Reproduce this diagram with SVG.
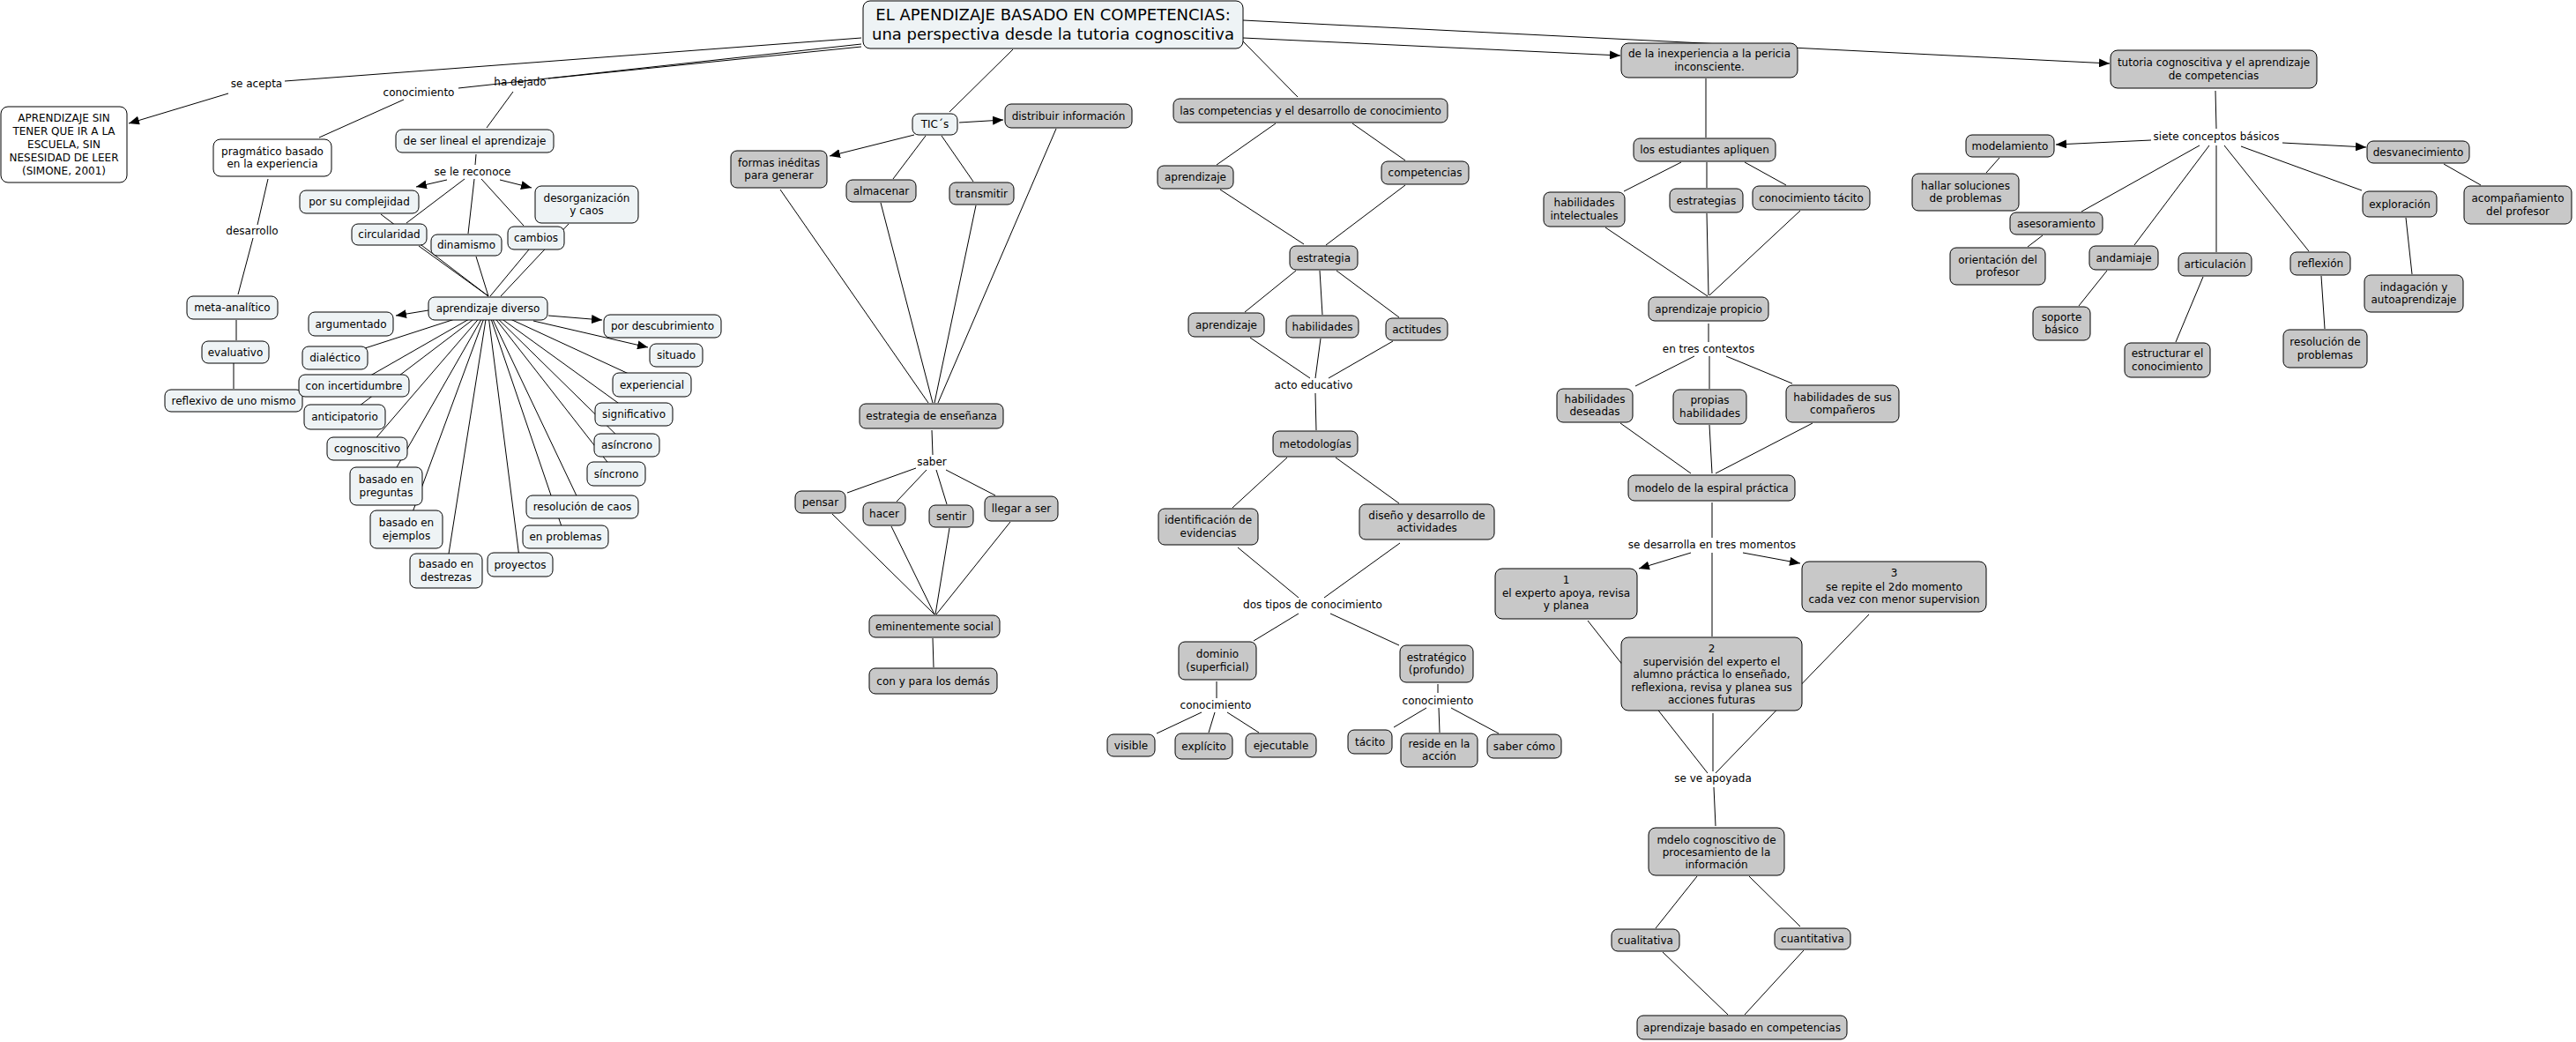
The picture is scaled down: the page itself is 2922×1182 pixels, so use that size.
<svg xmlns="http://www.w3.org/2000/svg" width="2922" height="1182" viewBox="0 0 2922 1182">
<defs>
<marker id="ah" markerUnits="userSpaceOnUse" markerWidth="12" markerHeight="10" refX="12" refY="5" orient="auto"><path d="M0,0 L12,5 L0,10 z" fill="#000"/></marker>
<style>
.g,.l,.w{stroke:#000;stroke-width:1}
.g{fill:#c8c8c8}.l{fill:#eef3f5}.w{fill:#fff}
text{font-family:"DejaVu Sans",Verdana,sans-serif;font-size:12px;text-anchor:middle;fill:#000}
.t{font-size:18px}
#connectors line{stroke:#000;stroke-width:1;fill:none}
.a{marker-end:url(#ah)}
</style>
</defs>
<rect x="0" y="0" width="2922" height="1182" fill="#fff"/>
<g id="connectors">
<line x1="977" y1="43" x2="323" y2="92"/>
<line class="a" x1="259" y1="106" x2="146" y2="140"/>
<line x1="977" y1="50" x2="520" y2="100"/>
<line x1="977" y1="53" x2="622" y2="89"/>
<line x1="458" y1="113" x2="362" y2="156"/>
<line x1="582" y1="104" x2="552" y2="145"/>
<line x1="304" y1="203" x2="292" y2="255"/>
<line x1="287" y1="270" x2="270" y2="334"/>
<line x1="268" y1="363" x2="268" y2="386"/>
<line x1="265" y1="412" x2="265" y2="441"/>
<line x1="540" y1="175" x2="539" y2="187"/>
<line class="a" x1="507" y1="204" x2="472" y2="212"/>
<line class="a" x1="567" y1="204" x2="603" y2="213"/>
<line x1="527" y1="203" x2="461" y2="253"/>
<line x1="538" y1="203" x2="531" y2="265"/>
<line x1="546" y1="203" x2="594" y2="256"/>
<line x1="432" y1="243" x2="554" y2="336"/>
<line x1="475" y1="279" x2="554" y2="336"/>
<line x1="540" y1="291" x2="554" y2="336"/>
<line x1="600" y1="283" x2="556" y2="336"/>
<line x1="645" y1="254" x2="568" y2="336"/>
<line class="a" x1="486" y1="352" x2="449" y2="358"/>
<line class="a" x1="622" y1="358" x2="683" y2="363"/>
<line class="a" x1="605" y1="364" x2="735" y2="394"/>
<line x1="553" y1="350" x2="380" y2="406"/>
<line x1="553" y1="350" x2="401" y2="437"/>
<line x1="553" y1="350" x2="391" y2="473"/>
<line x1="553" y1="350" x2="416" y2="509"/>
<line x1="553" y1="350" x2="438" y2="551"/>
<line x1="553" y1="350" x2="461" y2="600"/>
<line x1="553" y1="350" x2="506" y2="647"/>
<line x1="553" y1="350" x2="590" y2="640"/>
<line x1="553" y1="350" x2="641" y2="609"/>
<line x1="553" y1="350" x2="660" y2="575"/>
<line x1="553" y1="350" x2="699" y2="537"/>
<line x1="553" y1="350" x2="711" y2="505"/>
<line x1="553" y1="350" x2="719" y2="470"/>
<line x1="553" y1="350" x2="739" y2="436"/>
<line x1="1149" y1="56" x2="1077" y2="127"/>
<line class="a" x1="1088" y1="139" x2="1138" y2="136"/>
<line class="a" x1="1037" y1="153" x2="941" y2="177"/>
<line x1="1050" y1="154" x2="1013" y2="203"/>
<line x1="1068" y1="154" x2="1104" y2="206"/>
<line x1="885" y1="215" x2="1053" y2="457"/>
<line x1="999" y1="230" x2="1058" y2="457"/>
<line x1="1107" y1="233" x2="1060" y2="457"/>
<line x1="1198" y1="146" x2="1064" y2="457"/>
<line x1="1057" y1="488" x2="1058" y2="516"/>
<line x1="1039" y1="531" x2="961" y2="559"/>
<line x1="1051" y1="533" x2="1017" y2="569"/>
<line x1="1062" y1="533" x2="1074" y2="572"/>
<line x1="1073" y1="533" x2="1129" y2="562"/>
<line x1="944" y1="583" x2="1060" y2="697"/>
<line x1="1011" y1="597" x2="1060" y2="697"/>
<line x1="1077" y1="599" x2="1061" y2="697"/>
<line x1="1146" y1="592" x2="1062" y2="697"/>
<line x1="1058" y1="724" x2="1059" y2="757"/>
<line x1="1410" y1="47" x2="1472" y2="110"/>
<line x1="1447" y1="140" x2="1380" y2="187"/>
<line x1="1534" y1="140" x2="1594" y2="182"/>
<line x1="1384" y1="215" x2="1479" y2="277"/>
<line x1="1594" y1="210" x2="1504" y2="278"/>
<line x1="1470" y1="307" x2="1412" y2="354"/>
<line x1="1497" y1="307" x2="1500" y2="357"/>
<line x1="1516" y1="307" x2="1587" y2="360"/>
<line x1="1418" y1="383" x2="1486" y2="429"/>
<line x1="1498" y1="384" x2="1492" y2="429"/>
<line x1="1580" y1="387" x2="1507" y2="429"/>
<line x1="1492" y1="446" x2="1493" y2="488"/>
<line x1="1460" y1="519" x2="1398" y2="576"/>
<line x1="1515" y1="519" x2="1587" y2="571"/>
<line x1="1404" y1="621" x2="1473" y2="678"/>
<line x1="1588" y1="616" x2="1502" y2="678"/>
<line x1="1473" y1="696" x2="1422" y2="727"/>
<line x1="1509" y1="696" x2="1587" y2="732"/>
<line x1="1380" y1="773" x2="1380" y2="792"/>
<line x1="1363" y1="808" x2="1312" y2="832"/>
<line x1="1378" y1="808" x2="1371" y2="831"/>
<line x1="1392" y1="808" x2="1428" y2="831"/>
<line x1="1631" y1="776" x2="1631" y2="786"/>
<line x1="1618" y1="803" x2="1581" y2="825"/>
<line x1="1632" y1="803" x2="1633" y2="831"/>
<line x1="1646" y1="803" x2="1700" y2="832"/>
<line class="a" x1="1410" y1="43" x2="1838" y2="63"/>
<line class="a" x1="1410" y1="23" x2="2393" y2="72"/>
<line x1="1935" y1="89" x2="1935" y2="156"/>
<line x1="1907" y1="184" x2="1842" y2="217"/>
<line x1="1936" y1="184" x2="1936" y2="213"/>
<line x1="1979" y1="184" x2="2026" y2="210"/>
<line x1="1821" y1="258" x2="1937" y2="336"/>
<line x1="1936" y1="242" x2="1938" y2="335"/>
<line x1="2042" y1="239" x2="1939" y2="335"/>
<line x1="1938" y1="367" x2="1938" y2="388"/>
<line x1="1922" y1="404" x2="1855" y2="438"/>
<line x1="1939" y1="404" x2="1939" y2="441"/>
<line x1="1958" y1="404" x2="2033" y2="435"/>
<line x1="1838" y1="480" x2="1918" y2="537"/>
<line x1="1939" y1="482" x2="1942" y2="537"/>
<line x1="2056" y1="480" x2="1946" y2="537"/>
<line x1="1942" y1="570" x2="1942" y2="610"/>
<line class="a" x1="1918" y1="627" x2="1859" y2="645"/>
<line class="a" x1="1977" y1="627" x2="2042" y2="639"/>
<line x1="1942" y1="627" x2="1942" y2="722"/>
<line x1="1801" y1="704" x2="1937" y2="877"/>
<line x1="2120" y1="697" x2="1946" y2="877"/>
<line x1="1943" y1="809" x2="1943" y2="875"/>
<line x1="1944" y1="893" x2="1946" y2="937"/>
<line x1="1925" y1="994" x2="1878" y2="1053"/>
<line x1="1984" y1="994" x2="2042" y2="1051"/>
<line x1="1886" y1="1080" x2="1960" y2="1151"/>
<line x1="2046" y1="1078" x2="1979" y2="1151"/>
<line x1="2513" y1="103" x2="2514" y2="146"/>
<line class="a" x1="2440" y1="159" x2="2332" y2="164"/>
<line class="a" x1="2589" y1="162" x2="2684" y2="167"/>
<line x1="2772" y1="186" x2="2814" y2="210"/>
<line x1="2268" y1="179" x2="2253" y2="196"/>
<line x1="2495" y1="165" x2="2361" y2="240"/>
<line x1="2317" y1="267" x2="2300" y2="280"/>
<line x1="2506" y1="165" x2="2421" y2="278"/>
<line x1="2390" y1="307" x2="2358" y2="347"/>
<line x1="2514" y1="165" x2="2514" y2="286"/>
<line x1="2499" y1="314" x2="2468" y2="388"/>
<line x1="2523" y1="165" x2="2619" y2="285"/>
<line x1="2633" y1="313" x2="2637" y2="373"/>
<line x1="2542" y1="166" x2="2679" y2="216"/>
<line x1="2729" y1="247" x2="2736" y2="311"/>
</g>
<g id="labels">
<text x="291" y="99">se acepta</text>
<text x="475" y="109">conocimiento</text>
<text x="590" y="97">ha dejado</text>
<text x="286" y="266">desarrollo</text>
<text x="536" y="199">se le reconoce</text>
<text x="1057" y="528">saber</text>
<text x="1490" y="441">acto educativo</text>
<text x="1489" y="690">dos tipos de conocimiento</text>
<text x="1379" y="804">conocimiento</text>
<text x="1631" y="799">conocimiento</text>
<text x="1938" y="400">en tres contextos</text>
<text x="1942" y="622">se desarrolla en tres momentos</text>
<text x="1943" y="887">se ve apoyada</text>
<text x="2514" y="159">siete conceptos básicos</text>
</g>
<g id="n-title"><rect class="l" x="979" y="1" width="431" height="54" rx="8"/><text class="t" x="1194.5" y="23">EL APENDIZAJE BASADO EN COMPETENCIAS:</text><text class="t" x="1194.5" y="45">una perspectiva desde la tutoria cognoscitiva</text></g>
<g id="n-apr"><rect class="w" x="1" y="121" width="143" height="86" rx="8"/><text x="72.5" y="138">APRENDIZAJE SIN</text><text x="72.5" y="153">TENER QUE IR A LA</text><text x="72.5" y="168">ESCUELA, SIN</text><text x="72.5" y="183">NESESIDAD DE LEER</text><text x="72.5" y="198">(SIMONE, 2001)</text></g>
<g id="n-pragmatico"><rect class="w" x="242" y="158" width="134" height="42" rx="8"/><text x="309" y="176">pragmático basado</text><text x="309" y="190">en la experiencia</text></g>
<g id="n-meta"><rect class="l" x="212" y="336" width="103" height="26" rx="7"/><text x="263.5" y="353">meta-analítico</text></g>
<g id="n-evaluativo"><rect class="l" x="229" y="387" width="76" height="25" rx="7"/><text x="267" y="404">evaluativo</text></g>
<g id="n-reflexivo"><rect class="l" x="187" y="442" width="156" height="25" rx="7"/><text x="265" y="459">reflexivo de uno mismo</text></g>
<g id="n-deserlineal"><rect class="l" x="449" y="147" width="179" height="26" rx="7"/><text x="538.5" y="164">de ser lineal el aprendizaje</text></g>
<g id="n-complejidad"><rect class="l" x="340" y="216" width="135" height="26" rx="7"/><text x="407.5" y="233">por su complejidad</text></g>
<g id="n-desorg"><rect class="l" x="607" y="211" width="117" height="42" rx="7"/><text x="665.5" y="229">desorganización</text><text x="665.5" y="243">y caos</text></g>
<g id="n-circularidad"><rect class="l" x="399" y="254" width="85" height="24" rx="7"/><text x="441.5" y="270">circularidad</text></g>
<g id="n-dinamismo"><rect class="l" x="489" y="266" width="80" height="24" rx="7"/><text x="529" y="282">dinamismo</text></g>
<g id="n-cambios"><rect class="l" x="576" y="257" width="64" height="26" rx="7"/><text x="608" y="274">cambios</text></g>
<g id="n-diverso"><rect class="l" x="486" y="337" width="135" height="26" rx="7"/><text x="553.5" y="354">aprendizaje diverso</text></g>
<g id="n-argumentado"><rect class="l" x="350" y="354" width="96" height="27" rx="7"/><text x="398" y="372">argumentado</text></g>
<g id="n-descubrimiento"><rect class="l" x="685" y="357" width="133" height="26" rx="7"/><text x="751.5" y="374">por descubrimiento</text></g>
<g id="n-situado"><rect class="l" x="737" y="390" width="60" height="26" rx="7"/><text x="767" y="407">situado</text></g>
<g id="n-dialectico"><rect class="l" x="343" y="393" width="74" height="26" rx="7"/><text x="380" y="410">dialéctico</text></g>
<g id="n-incertidumbre"><rect class="l" x="339" y="425" width="125" height="25" rx="7"/><text x="401.5" y="442">con incertidumbre</text></g>
<g id="n-anticipatorio"><rect class="l" x="345" y="459" width="92" height="28" rx="7"/><text x="391" y="477">anticipatorio</text></g>
<g id="n-cognoscitivo"><rect class="l" x="371" y="496" width="91" height="26" rx="7"/><text x="416.5" y="513">cognoscitivo</text></g>
<g id="n-preguntas"><rect class="l" x="397" y="530" width="82" height="43" rx="7"/><text x="438" y="548">basado en</text><text x="438" y="563">preguntas</text></g>
<g id="n-ejemplos"><rect class="l" x="420" y="579" width="82" height="43" rx="7"/><text x="461" y="597">basado en</text><text x="461" y="612">ejemplos</text></g>
<g id="n-destrezas"><rect class="l" x="465" y="628" width="82" height="39" rx="7"/><text x="506" y="644">basado en</text><text x="506" y="659">destrezas</text></g>
<g id="n-proyectos"><rect class="l" x="553" y="627" width="74" height="27" rx="7"/><text x="590" y="645">proyectos</text></g>
<g id="n-enproblemas"><rect class="l" x="593" y="596" width="97" height="26" rx="7"/><text x="641.5" y="613">en problemas</text></g>
<g id="n-resolcaos"><rect class="l" x="597" y="562" width="127" height="26" rx="7"/><text x="660.5" y="579">resolución de caos</text></g>
<g id="n-sincrono"><rect class="l" x="666" y="524" width="66" height="27" rx="7"/><text x="699" y="542">síncrono</text></g>
<g id="n-asincrono"><rect class="l" x="674" y="492" width="74" height="26" rx="7"/><text x="711" y="509">asíncrono</text></g>
<g id="n-significativo"><rect class="l" x="675" y="457" width="88" height="26" rx="7"/><text x="719" y="474">significativo</text></g>
<g id="n-experiencial"><rect class="l" x="695" y="423" width="89" height="27" rx="7"/><text x="739.5" y="441">experiencial</text></g>
<g id="n-tics"><rect class="l" x="1035" y="129" width="51" height="24" rx="7"/><text x="1060.5" y="145">TIC´s</text></g>
<g id="n-distribuir"><rect class="g" x="1140" y="118" width="144" height="27" rx="7"/><text x="1212" y="136">distribuir información</text></g>
<g id="n-formas"><rect class="g" x="829" y="171" width="109" height="42" rx="7"/><text x="883.5" y="189">formas inéditas</text><text x="883.5" y="203">para generar</text></g>
<g id="n-almacenar"><rect class="g" x="960" y="204" width="79" height="25" rx="7"/><text x="999.5" y="221">almacenar</text></g>
<g id="n-transmitir"><rect class="g" x="1077" y="207" width="73" height="25" rx="7"/><text x="1113.5" y="224">transmitir</text></g>
<g id="n-estens"><rect class="g" x="975" y="458" width="163" height="28" rx="7"/><text x="1056.5" y="476">estrategia de enseñanza</text></g>
<g id="n-pensar"><rect class="g" x="902" y="557" width="57" height="25" rx="7"/><text x="930.5" y="574">pensar</text></g>
<g id="n-hacer"><rect class="g" x="979" y="570" width="48" height="26" rx="7"/><text x="1003" y="587">hacer</text></g>
<g id="n-sentir"><rect class="g" x="1054" y="573" width="50" height="25" rx="7"/><text x="1079" y="590">sentir</text></g>
<g id="n-llegar"><rect class="g" x="1117" y="563" width="83" height="28" rx="7"/><text x="1158.5" y="581">llegar a ser</text></g>
<g id="n-eminentemente"><rect class="g" x="986" y="698" width="148" height="25" rx="7"/><text x="1060" y="715">eminentemente social</text></g>
<g id="n-conypara"><rect class="g" x="986" y="758" width="145" height="29" rx="7"/><text x="1058.5" y="777">con y para los demás</text></g>
<g id="n-lascomp"><rect class="g" x="1331" y="112" width="311" height="27" rx="7"/><text x="1486.5" y="130">las competencias y el desarrollo de conocimiento</text></g>
<g id="n-aprendizaje1"><rect class="g" x="1313" y="188" width="86" height="26" rx="7"/><text x="1356" y="205">aprendizaje</text></g>
<g id="n-competencias"><rect class="g" x="1567" y="183" width="99" height="26" rx="7"/><text x="1616.5" y="200">competencias</text></g>
<g id="n-estrategia"><rect class="g" x="1463" y="279" width="77" height="27" rx="7"/><text x="1501.5" y="297">estrategia</text></g>
<g id="n-aprendizaje2"><rect class="g" x="1348" y="355" width="86" height="27" rx="7"/><text x="1391" y="373">aprendizaje</text></g>
<g id="n-habilidades"><rect class="g" x="1459" y="358" width="82" height="25" rx="7"/><text x="1500" y="375">habilidades</text></g>
<g id="n-actitudes"><rect class="g" x="1572" y="361" width="70" height="25" rx="7"/><text x="1607" y="378">actitudes</text></g>
<g id="n-metodologias"><rect class="g" x="1444" y="489" width="96" height="29" rx="7"/><text x="1492" y="508">metodologías</text></g>
<g id="n-identificacion"><rect class="g" x="1314" y="577" width="113" height="41" rx="7"/><text x="1370.5" y="594">identificación de</text><text x="1370.5" y="609">evidencias</text></g>
<g id="n-diseno"><rect class="g" x="1542" y="572" width="153" height="40" rx="7"/><text x="1618.5" y="589">diseño y desarrollo de</text><text x="1618.5" y="603">actividades</text></g>
<g id="n-dominio"><rect class="g" x="1337" y="728" width="88" height="43" rx="7"/><text x="1381" y="746">dominio</text><text x="1381" y="761">(superficial)</text></g>
<g id="n-estrategico"><rect class="g" x="1588" y="732" width="83" height="42" rx="7"/><text x="1629.5" y="750">estratégico</text><text x="1629.5" y="764">(profundo)</text></g>
<g id="n-visible"><rect class="g" x="1256" y="833" width="54" height="25" rx="7"/><text x="1283" y="850">visible</text></g>
<g id="n-explicito"><rect class="g" x="1333" y="832" width="65" height="29" rx="7"/><text x="1365.5" y="851">explícito</text></g>
<g id="n-ejecutable"><rect class="g" x="1413" y="832" width="80" height="27" rx="7"/><text x="1453" y="850">ejecutable</text></g>
<g id="n-tacito"><rect class="g" x="1529" y="828" width="50" height="27" rx="7"/><text x="1554" y="846">tácito</text></g>
<g id="n-reside"><rect class="g" x="1589" y="832" width="87" height="38" rx="7"/><text x="1632.5" y="848">reside en la</text><text x="1632.5" y="862">acción</text></g>
<g id="n-sabercomo"><rect class="g" x="1687" y="833" width="84" height="27" rx="7"/><text x="1729" y="851">saber cómo</text></g>
<g id="n-inexperiencia"><rect class="g" x="1839" y="49" width="200" height="39" rx="8"/><text x="1939" y="65">de la inexperiencia a la pericia</text><text x="1939" y="80">inconsciente.</text></g>
<g id="n-estudiantes"><rect class="g" x="1853" y="157" width="161" height="26" rx="7"/><text x="1933.5" y="174">los estudiantes apliquen</text></g>
<g id="n-habint"><rect class="g" x="1751" y="218" width="92" height="39" rx="7"/><text x="1797" y="234">habilidades</text><text x="1797" y="249">intelectuales</text></g>
<g id="n-estrategias"><rect class="g" x="1894" y="214" width="83" height="27" rx="7"/><text x="1935.5" y="232">estrategias</text></g>
<g id="n-conoctacito"><rect class="g" x="1988" y="211" width="133" height="27" rx="7"/><text x="2054.5" y="229">conocimiento tácito</text></g>
<g id="n-propicio"><rect class="g" x="1870" y="337" width="136" height="27" rx="7"/><text x="1938" y="355">aprendizaje propicio</text></g>
<g id="n-deseadas"><rect class="g" x="1766" y="441" width="86" height="38" rx="7"/><text x="1809" y="457">habilidades</text><text x="1809" y="471">deseadas</text></g>
<g id="n-propias"><rect class="g" x="1898" y="442" width="83" height="39" rx="7"/><text x="1939.5" y="458">propias</text><text x="1939.5" y="473">habilidades</text></g>
<g id="n-companeros"><rect class="g" x="2026" y="437" width="128" height="42" rx="7"/><text x="2090" y="455">habilidades de sus</text><text x="2090" y="469">compañeros</text></g>
<g id="n-espiral"><rect class="g" x="1847" y="539" width="189" height="29" rx="7"/><text x="1941.5" y="558">modelo de la espiral práctica</text></g>
<g id="n-m1"><rect class="g" x="1696" y="645" width="161" height="57" rx="8"/><text x="1776.5" y="662">1</text><text x="1776.5" y="677">el experto apoya, revisa</text><text x="1776.5" y="691">y planea</text></g>
<g id="n-m3"><rect class="g" x="2044" y="637" width="209" height="57" rx="8"/><text x="2148.5" y="654">3</text><text x="2148.5" y="670">se repite el 2do momento</text><text x="2148.5" y="684">cada vez con menor supervision</text></g>
<g id="n-m2"><rect class="g" x="1839" y="723" width="205" height="83" rx="8"/><text x="1941.5" y="740">2</text><text x="1941.5" y="755">supervisión del experto el</text><text x="1941.5" y="769">alumno práctica lo enseñado,</text><text x="1941.5" y="784">reflexiona, revisa y planea sus</text><text x="1941.5" y="798">acciones futuras</text></g>
<g id="n-mdelo"><rect class="g" x="1870" y="939" width="154" height="54" rx="8"/><text x="1947" y="957">mdelo cognoscitivo de</text><text x="1947" y="971">procesamiento de la</text><text x="1947" y="985">información</text></g>
<g id="n-cualitativa"><rect class="g" x="1828" y="1054" width="77" height="25" rx="7"/><text x="1866.5" y="1071">cualitativa</text></g>
<g id="n-cuantitativa"><rect class="g" x="2013" y="1053" width="86" height="24" rx="7"/><text x="2056" y="1069">cuantitativa</text></g>
<g id="n-abc"><rect class="g" x="1857" y="1152" width="238" height="27" rx="7"/><text x="1976" y="1170">aprendizaje basado en competencias</text></g>
<g id="n-tutoria"><rect class="g" x="2394" y="57" width="234" height="43" rx="8"/><text x="2511" y="75">tutoria cognoscitiva y el aprendizaje</text><text x="2511" y="90">de competencias</text></g>
<g id="n-modelamiento"><rect class="g" x="2230" y="153" width="100" height="25" rx="7"/><text x="2280" y="170">modelamiento</text></g>
<g id="n-desvanecimiento"><rect class="g" x="2685" y="160" width="116" height="25" rx="7"/><text x="2743" y="177">desvanecimiento</text></g>
<g id="n-acompanamiento"><rect class="g" x="2795" y="211" width="122" height="43" rx="7"/><text x="2856" y="229">acompañamiento</text><text x="2856" y="244">del profesor</text></g>
<g id="n-hallar"><rect class="g" x="2169" y="197" width="121" height="42" rx="7"/><text x="2229.5" y="215">hallar soluciones</text><text x="2229.5" y="229">de problemas</text></g>
<g id="n-asesoramiento"><rect class="g" x="2280" y="241" width="105" height="25" rx="7"/><text x="2332.5" y="258">asesoramiento</text></g>
<g id="n-orientacion"><rect class="g" x="2212" y="281" width="108" height="42" rx="7"/><text x="2266" y="299">orientación del</text><text x="2266" y="313">profesor</text></g>
<g id="n-andamiaje"><rect class="g" x="2370" y="279" width="78" height="27" rx="7"/><text x="2409" y="297">andamiaje</text></g>
<g id="n-soporte"><rect class="g" x="2306" y="348" width="65" height="38" rx="7"/><text x="2338.5" y="364">soporte</text><text x="2338.5" y="378">básico</text></g>
<g id="n-articulacion"><rect class="g" x="2471" y="287" width="83" height="26" rx="7"/><text x="2512.5" y="304">articulación</text></g>
<g id="n-estructurar"><rect class="g" x="2410" y="389" width="97" height="39" rx="7"/><text x="2458.5" y="405">estructurar el</text><text x="2458.5" y="420">conocimiento</text></g>
<g id="n-reflexion"><rect class="g" x="2598" y="286" width="68" height="26" rx="7"/><text x="2632" y="303">reflexión</text></g>
<g id="n-resolprob"><rect class="g" x="2590" y="374" width="95" height="43" rx="7"/><text x="2637.5" y="392">resolución de</text><text x="2637.5" y="407">problemas</text></g>
<g id="n-exploracion"><rect class="g" x="2680" y="217" width="84" height="29" rx="7"/><text x="2722" y="236">exploración</text></g>
<g id="n-indagacion"><rect class="g" x="2682" y="312" width="112" height="42" rx="7"/><text x="2738" y="330">indagación y</text><text x="2738" y="344">autoaprendizaje</text></g>
</svg>
